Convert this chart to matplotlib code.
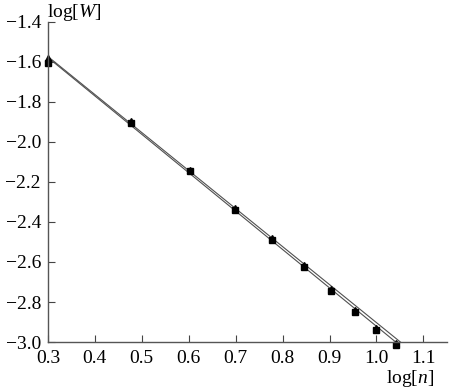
import numpy as np
import matplotlib
matplotlib.use("Agg")
import matplotlib.pyplot as plt

plt.rcParams["font.family"] = ["Liberation Serif", "DejaVu Serif"]
plt.rcParams["mathtext.fontset"] = "custom"
plt.rcParams["mathtext.it"] = "Liberation Serif:italic"
plt.rcParams["mathtext.rm"] = "Liberation Serif"

# log of the number n = 2..11
log_n = np.log10(np.arange(2, 12))
# two measured series (squares and triangles)
logw_square = [-1.605, -1.907, -2.145, -2.338, -2.490, -2.623, -2.743, -2.848, -2.940, -3.015]
logw_triangle = [-1.580, -1.898, -2.138, -2.330, -2.482, -2.615, -2.735, -2.840, -2.932, -3.005]

# two straight lines (end points)
line1_x = [0.301, 1.041]
line1_y = [-1.580, -3.000]
line2_x = [0.301, 1.051]
line2_y = [-1.575, -3.000]

x_ticks = [0.3, 0.4, 0.5, 0.6, 0.7, 0.8, 0.9, 1.0, 1.1]
y_ticks = [-3.0, -2.8, -2.6, -2.4, -2.2, -2.0, -1.8, -1.6, -1.4]

fig = plt.figure(figsize=(4.56, 3.90), dpi=100)
ax = fig.add_axes([0.105, 0.123, 0.875, 0.821])

ax.plot(line1_x, line1_y, color="#505050", lw=0.8, clip_on=False)
ax.plot(line2_x, line2_y, color="#505050", lw=0.8, clip_on=False)
ax.plot(log_n, logw_square, "s", color="black", ms=4, clip_on=False)
ax.plot(log_n, logw_triangle, "^", color="black", ms=4, clip_on=False)

ax.set_xlim(0.3, 1.15)
ax.set_ylim(-3.0, -1.4)
ax.set_xticks(x_ticks)
ax.set_yticks(y_ticks)
ax.set_xticklabels([f"{v:.1f}" for v in x_ticks])
ax.set_yticklabels([f"\u2212{abs(v):.1f}" for v in y_ticks])
ax.tick_params(direction="in", length=5, width=0.8, labelsize=14, color="#444444")
ax.tick_params(axis="x", pad=6)
ax.tick_params(axis="y", pad=5)

for side in ["top", "right"]:
    ax.spines[side].set_visible(False)
for side in ["left", "bottom"]:
    ax.spines[side].set_color("#555555")
    ax.spines[side].set_linewidth(1.0)

fig.text(0.103, 0.995, r"log[$W$]", ha="left", va="top", fontsize=14)
fig.text(0.90, 0.003, r"log[$n$]", ha="center", va="bottom", fontsize=14)

fig.savefig("out.png", dpi=100)
